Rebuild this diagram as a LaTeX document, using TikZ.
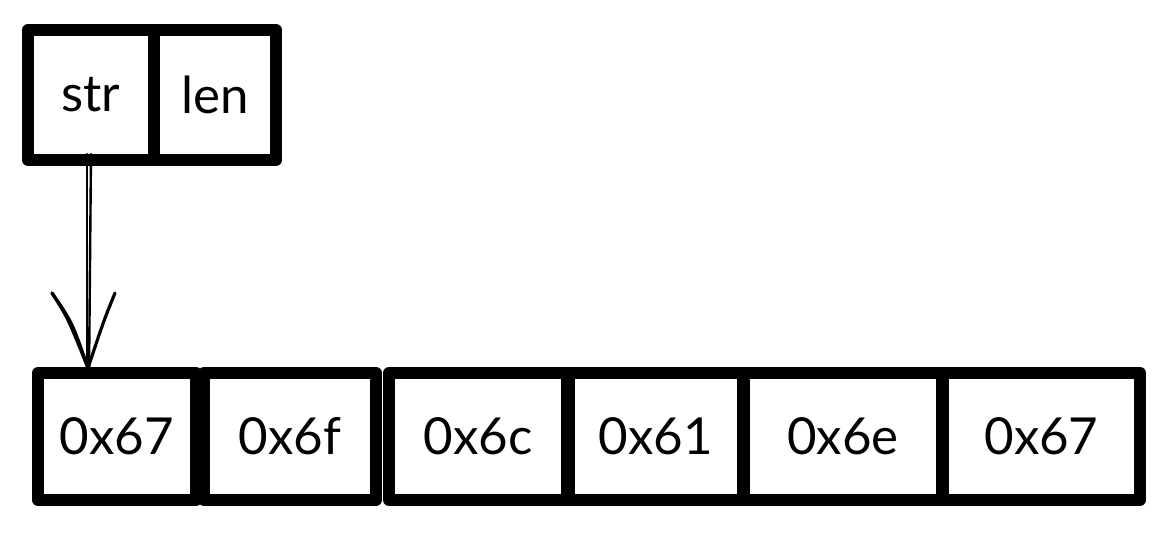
\documentclass[tikz,border=0pt]{standalone}
\usepackage{fontspec}
\setmainfont{Lato}
\begin{document}
\begin{tikzpicture}[x=1pt,y=-1pt,
  cell/.style={draw=black,line width=12pt,line join=round,inner sep=0pt,outer sep=0pt,
    minimum height=127pt,font=\fontsize{51}{53}\selectfont,fill=white},
  shaft/.style={draw=black,line width=2.4pt,line cap=round},
  headline/.style={draw=black,line width=3.2pt,line cap=round}]
\useasboundingbox (0,0) rectangle (1168,533);
% top struct
\node[cell,minimum width=126pt,minimum height=130pt] (str) at (91,95) {\raisebox{-3pt}{str}};
\node[cell,minimum width=122pt,minimum height=130pt] (len) at (215,95) {len};
% byte array
\node[cell,minimum width=158pt] (b1) at (117,436.5) {0x67};
\node[cell,minimum width=172pt] (b2) at (290,436.5) {0x6f};
\node[cell,minimum width=178pt] (b3) at (478,436.5) {0x6c};
\node[cell,minimum width=174pt] (b4) at (656,436.5) {0x61};
\node[cell,minimum width=198pt] (b5) at (843,436.5) {0x6e};
\node[cell,minimum width=197pt] (b6) at (1041.5,436.5) {0x67};
% arrow
\coordinate (s1) at (str.south -| 87,0);
\coordinate (s2) at (str.south -| 91,0);
\coordinate (tip) at (b1.north -| 88,0);
\coordinate (tipA) at (88,368);
\coordinate (hl) at (52,293);
\coordinate (hr) at (115,293);
\draw[shaft] ([yshift=6pt]s1) -- ([xshift=-1pt,yshift=6pt]tip);
\draw[shaft] ([yshift=6pt]s2) -- ([xshift=1pt,yshift=-4pt]tip);
\draw[headline] (hl) .. controls (68,318) .. (tipA);
\draw[headline] (hl) .. controls (72,322) .. (tipA);
\draw[headline] (hr) .. controls (104,320) .. (tipA);
\end{tikzpicture}
\end{document}
